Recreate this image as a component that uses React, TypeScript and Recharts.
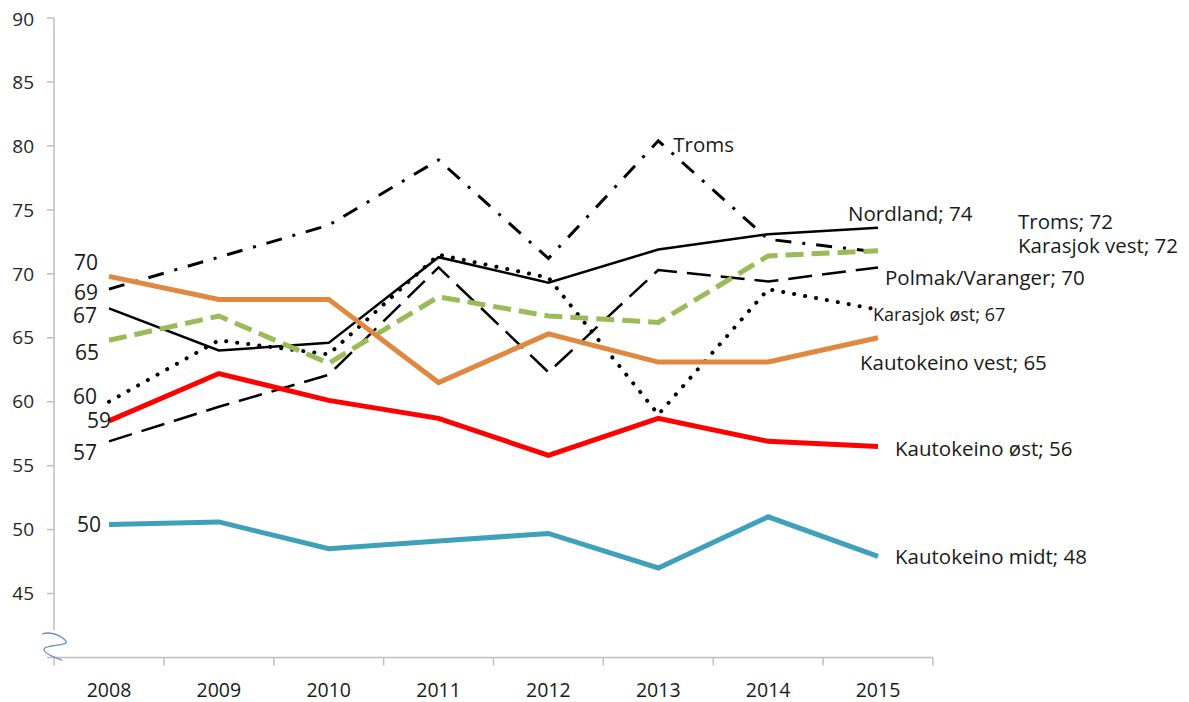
import React from 'react';
import { LineChart, Line, XAxis, YAxis } from 'recharts';

const years = ['2008', '2009', '2010', '2011', '2012', '2013', '2014', '2015'];

const troms = [68.8, 71.3, 73.8, 78.9, 71.2, 80.4, 72.7, 71.7];
const nordland = [67.3, 64.0, 64.6, 71.3, 69.3, 71.9, 73.1, 73.6];
const polmakVaranger = [56.9, 59.6, 62.1, 70.5, 62.3, 70.3, 69.4, 70.5];
const karasjokOst = [60.0, 64.8, 63.7, 71.5, 69.7, 59.0, 68.8, 67.2];
const karasjokVest = [64.8, 66.7, 63.0, 68.2, 66.7, 66.2, 71.4, 71.8];
const kautokeinoVest = [69.8, 68.0, 68.0, 61.5, 65.3, 63.1, 63.1, 65.0];
const kautokeinoOst = [58.5, 62.2, 60.1, 58.7, 55.8, 58.7, 56.9, 56.5];
const kautokeinoMidt = [50.4, 50.6, 48.5, 49.1, 49.7, 47.0, 51.0, 47.9];

const yTicks = [45, 50, 55, 60, 65, 70, 75, 80, 85, 90];

const startLabels = ['69', '67', '57', '60', '65', '70', '59', '50'];
const endLabels = [
  'Troms; 72',
  'Nordland; 74',
  'Polmak/Varanger; 70',
  'Karasjok øst; 67',
  'Karasjok vest; 72',
  'Kautokeino vest; 65',
  'Kautokeino øst; 56',
  'Kautokeino midt; 48',
];
const peakLabel = 'Troms';

const data = years.map((year, i) => ({
  year,
  troms: troms[i],
  nordland: nordland[i],
  polmak: polmakVaranger[i],
  karasjokOst: karasjokOst[i],
  karasjokVest: karasjokVest[i],
  kautoVest: kautokeinoVest[i],
  kautoOst: kautokeinoOst[i],
  kautoMidt: kautokeinoMidt[i],
}));

// styling + label placement per series (same order as the label arrays)
const series = [
  { key: 'troms', stroke: '#000', width: 3, dash: '16 11 3 11', start: [-11, 4], end: [140, -30], peak: [15, 4] },
  { key: 'nordland', stroke: '#000', width: 2.5, dash: undefined, start: [-12, 7], end: [-30, -14] },
  { key: 'polmak', stroke: '#000', width: 2.5, dash: '24 10', start: [-12, 11], end: [7, 10] },
  { key: 'karasjokOst', stroke: '#000', width: 4, dash: '0.1 11', cap: 'round', start: [-12, -5], end: [-5, 5], small: true },
  { key: 'karasjokVest', stroke: '#9BBB59', width: 5, dash: '18 8', start: [-10, 12], end: [140, -5] },
  { key: 'kautoVest', stroke: '#E0883F', width: 5, dash: undefined, start: [-11, -14], end: [-18, 25] },
  { key: 'kautoOst', stroke: '#FF0000', width: 5, dash: undefined, start: [2, 0], end: [17, 2] },
  { key: 'kautoMidt', stroke: '#3FA0BA', width: 5, dash: undefined, start: [-8, 0], end: [17, 0] },
];

const FONT = '"Open Sans", sans-serif';
const TEXT = '#1a1a1a';
const AXIS = '#BFBFBF';
const W = 1181;
const H = 694;
const PLOT_LEFT = 46;
const PLOT_RIGHT = 925;
const PAD = 55;
const STEP = (PLOT_RIGHT - PLOT_LEFT - 2 * PAD) / (years.length - 1);

const XTick = (props: any) => {
  const { x, y, payload, index } = props;
  const half = STEP / 2;
  return (
    <g>
      <line x1={x - half} x2={x - half} y1={y} y2={y + 8} stroke={AXIS} strokeWidth={1.5} />
      {index === years.length - 1 && (
        <line x1={x + half} x2={x + half} y1={y} y2={y + 8} stroke={AXIS} strokeWidth={1.5} />
      )}
      <text x={x} y={y + 39.5} textAnchor="middle" fontFamily={FONT} fontSize={19.5} fill={TEXT}>
        {payload.value}
      </text>
    </g>
  );
};

const makeLabel = (i: number) => (props: any) => {
  const s: any = series[i];
  const { x, y, index } = props;
  if (x == null || y == null) return <g />;
  const last = years.length - 1;
  if (index === 0) {
    return (
      <text x={x + s.start[0]} y={y + s.start[1]} dy="0.35em" textAnchor="end" fontFamily={FONT} fontSize={21} fill={TEXT}>
        {startLabels[i]}
      </text>
    );
  }
  if (index === last) {
    return (
      <text x={x + s.end[0]} y={y + s.end[1]} dy="0.35em" textAnchor="start" fontFamily={FONT} fontSize={s.small ? 18 : 20.5} fill={TEXT}>
        {endLabels[i]}
      </text>
    );
  }
  if (s.peak && index === 5) {
    return (
      <text x={x + s.peak[0]} y={y + s.peak[1]} dy="0.35em" textAnchor="start" fontFamily={FONT} fontSize={20.5} fill={TEXT}>
        {peakLabel}
      </text>
    );
  }
  return <g />;
};

export default function App() {
  return (
    <div style={{ position: 'relative', width: W, height: H }}>
      <LineChart width={W} height={H} data={data} margin={{ top: 10, right: W - PLOT_RIGHT, left: 6, bottom: 0.5 }}>
        <XAxis
          dataKey="year"
          padding={{ left: PAD, right: PAD }}
          interval={0}
          tickLine={false}
          tickSize={0}
          tickMargin={0}
          height={44}
          axisLine={{ stroke: AXIS, strokeWidth: 1.5 }}
          tick={<XTick />}
        />
        <YAxis
          domain={[40, 90]}
          ticks={yTicks}
          width={40}
          tickSize={7}
          tickMargin={13}
          axisLine={{ stroke: AXIS, strokeWidth: 1.5 }}
          tickLine={{ stroke: AXIS, strokeWidth: 1.5 }}
          tick={{ fontFamily: FONT, fontSize: 19, fill: '#262626' }}
        />
        {series.map((s: any, i) => (
          <Line
            key={s.key}
            dataKey={s.key}
            type="linear"
            stroke={s.stroke}
            strokeWidth={s.width}
            strokeDasharray={s.dash}
            strokeLinecap={s.cap ?? 'butt'}
            dot={false}
            activeDot={false}
            isAnimationActive={false}
            label={makeLabel(i)}
          />
        ))}
      </LineChart>
      <svg width={W} height={H} style={{ position: 'absolute', left: 0, top: 0, pointerEvents: 'none' }}>
        <rect x={43} y={622} width={6} height={26} fill="#fff" />
        <line x1={39} x2={46} y1={649.5} y2={649.5} stroke={AXIS} strokeWidth={1.5} />
        <path
          d="M34,626 C46,622 60,632 58,635 C54,638 37,637 36,641 C35,645 47,650 54,652"
          fill="none"
          stroke="#6A8CC8"
          strokeWidth={1.3}
        />
      </svg>
    </div>
  );
}
